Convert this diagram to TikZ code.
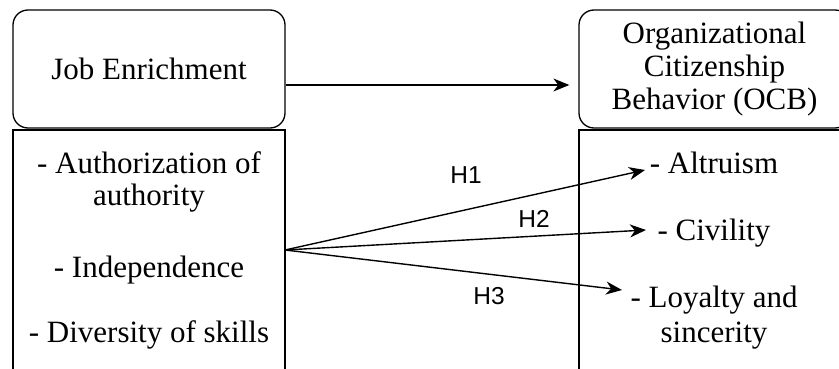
\documentclass[tikz,border=0pt]{standalone}
\usepackage{fontspec}
\setmainfont{Liberation Serif}
\newfontfamily\hfont{Liberation Sans}
\usetikzlibrary{arrows.meta}
\begin{document}
\begin{tikzpicture}[x=1pt,y=-1pt,
  line width=1.3pt,
  headbox/.style={draw, rounded corners=15pt, minimum width=272pt, minimum height=118pt,
    align=center, inner sep=0pt, font=\fontsize{31}{33}\selectfont},
  listbox/.style={draw, minimum width=272pt, minimum height=260pt, inner sep=0pt},
  item/.style={anchor=base, inner sep=0pt, font=\fontsize{31}{33}\selectfont},
  hyp/.style={inner sep=0pt, font=\hfont\fontsize{24.5}{24.5}\selectfont},
  link/.style={-{Stealth[length=16pt,width=13pt,inset=5pt]}, line width=1.4pt}]
\useasboundingbox (0,0) rectangle (839,369);
\clip (0,0) rectangle (839,369);

% construct headers
\node[headbox] (je)  at (149,69)  {Job Enrichment};
\node[headbox, minimum width=271pt] (ocb) at (714.5,69)
  {Organizational\\Citizenship\\Behavior (OCB)};

% dimension lists
\node[listbox] (jel)  at (149,260) {};
\node[listbox, minimum width=271pt] (ocbl) at (714.5,260) {};

\node[item] (d1)  at (149,173) {- Authorization of};
\node[item] (d1b) at (149,205) {authority};
\node[item] (d2)  at (149,277) {- Independence};
\node[item] (d3)  at (149,342) {- Diversity of skills};

\node[item] (o1)  at (714,173) {- Altruism};
\node[item] (o2)  at (714,240) {- Civility};
\node[item] (o3)  at (714,307) {- Loyalty and};
\node[item] (o3b) at (714,342) {sincerity};

% main relation
\draw[link] ([yshift=-16pt]je.east) -- ([yshift=-16pt]ocb.west) [shorten >=9pt];

% hypothesised paths
\coordinate (src) at (285,250);
\coordinate (t1) at (645,170);
\coordinate (t2) at (646,230);
\coordinate (t3) at (622,290);
\draw[link] (src) -- (t1);
\draw[link] (src) -- (t2);
\draw[link] (src) -- (t3);

\node[hyp] (h1) at (466,175) {H1};
\node[hyp] (h2) at (534,219) {H2};
\node[hyp] (h3) at (489,296) {H3};
\end{tikzpicture}
\end{document}
